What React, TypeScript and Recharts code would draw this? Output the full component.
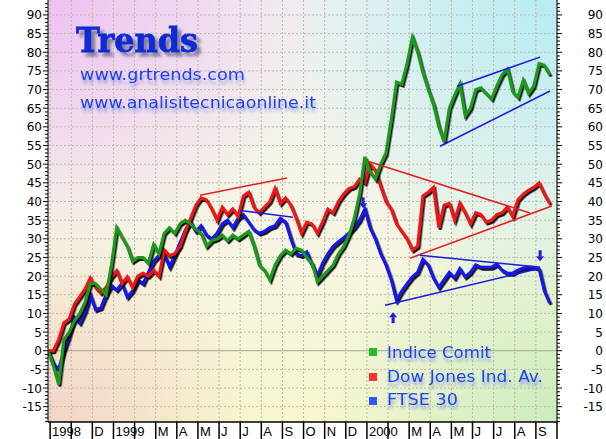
import React from 'react';
import { ComposedChart, Line, XAxis, YAxis, CartesianGrid, ReferenceLine, ReferenceDot } from 'recharts';

// month ticks, Oct 1998 .. Oct 2000
const monthLabels = ['1998', '', 'D', '1999', '', 'M', 'A', 'M', 'J', 'J', 'A', 'S', 'O', 'N', 'D', '2000', '', 'M', 'A', 'M', 'J', 'J', 'A', 'S', ''];

// weekly closes, % change from start
const comit = [0, -4, -9, 3, 5, 8, 10, 13, 18, 18, 16.5, 15, 23, 33, 30.5, 28, 24, 25, 25, 23.5, 28.5, 26, 31.5, 33, 31.5, 34, 35, 34, 32.5, 31.5, 28, 29.5, 30, 31, 29.5, 31, 30, 31, 32, 28, 23, 21.6, 19, 23, 25.5, 27, 26, 27.5, 27, 25, 23.5, 18.5, 20, 21.5, 23, 26, 28, 31, 35.5, 42, 52, 48, 46, 50, 53, 62, 72, 71.5, 77, 84, 80, 74.5, 70, 66, 60, 56, 65, 68.5, 71.5, 63, 65, 70, 70.5, 69, 67.5, 71, 74, 75.5, 69.5, 68, 72.5, 69, 71, 77, 76.5, 74];
const dowJones = [0, 0, 3, 7.5, 8.5, 12.5, 14.5, 16.5, 19.5, 17, 15.5, 17, 19.8, 21.5, 18, 19.8, 17, 20, 20.8, 20, 21.6, 20, 27, 25.5, 26, 28, 32, 35.5, 39, 41, 40.5, 38, 35, 38.5, 36.5, 38, 36, 41.5, 42.5, 38.5, 37, 38.5, 40, 43.5, 39.5, 41, 39, 35.5, 31.5, 34.5, 34, 31.5, 34.5, 38, 37, 40, 42, 43.5, 44, 46, 45, 50, 48.4, 44, 40, 38, 34, 32, 30, 27, 28, 41.5, 42.5, 43.8, 33, 39, 39.5, 35, 39.5, 37, 34, 37, 36.5, 34.5, 35, 36.5, 37, 38.5, 36, 40.5, 42, 43, 43.8, 45, 42, 39.5];
const ftse = [0, -3.4, -5, 0, 4, 9, 7.5, 10.5, 15, 11, 11.5, 15, 17.5, 16.3, 18, 14.4, 16, 19, 18, 21, 24, 25.5, 26, 22.5, 25.5, 29, 32.3, 34.5, 32, 33.5, 31, 30, 31.5, 34, 35, 33, 35.5, 36.5, 34.5, 32.5, 31.5, 32, 33, 33.5, 35.5, 34.5, 30, 26, 25.5, 26.5, 23, 20, 23.5, 26, 28, 29.2, 30.3, 31.5, 33, 35, 38, 33, 30, 26, 23, 19, 13.5, 16, 18, 19.8, 21, 24.5, 23, 19.5, 17, 19, 21, 19.5, 22, 19.8, 21, 23, 22.4, 22.4, 22.4, 23.2, 21.6, 20.8, 20.8, 21.6, 22.2, 22.4, 22.4, 22, 16, 12.8];

// hand-drawn trend lines: [month, value] -> [month, value]
const trendLines = [
  { from: [7.1, 41.7], to: [11.22, 46.3], color: '#e02020' },
  { from: [15.05, 50.8], to: [22.72, 36.9], color: '#e02020' },
  { from: [17.04, 24.8], to: [23.76, 38.8], color: '#e02020' },
  { from: [8.99, 37.6], to: [11.5, 35.8], color: '#1a1ae0' },
  { from: [17.51, 25.6], to: [23.2, 22.4], color: '#1a1ae0' },
  { from: [15.86, 12.2], to: [23.2, 22.1], color: '#1a1ae0' },
  { from: [19.27, 70.9], to: [23.2, 78.7], color: '#1a1ae0' },
  { from: [18.46, 54.8], to: [23.67, 69.6], color: '#1a1ae0' },
];

const arrows = [
  { m: 14.82, v: 39.5, dir: 'down' },
  { m: 16.24, v: 9, dir: 'up' },
  { m: 23.2, v: 25.3, dir: 'down' },
];

const data = comit.map((v, i) => ({ m: -0.1 + i * 0.25, comit: v, dow: dowJones[i], ftse: ftse[i] }));

const yTicks = Array.from({ length: 113 }, (_, i) => i - 19);
const gridY = [-15, -10, -5, 5, 10, 15, 20, 25, 30, 35, 40, 45, 50, 55, 60, 65, 70, 75, 80, 85, 90];
const monthTicks = monthLabels.map((_, i) => i);

const axisFont = 'DejaVu Sans, Verdana, sans-serif';

function LeftTick(props: any) {
  const { x, y, payload } = props;
  const major = payload.value % 5 === 0;
  return (
    <g>
      <line x1={x - (major ? 5 : 3)} x2={x} y1={y} y2={y} stroke="#000" />
      {major && (
        <text x={x - 6} y={y + 4.5} textAnchor="end" fontSize={12} fontFamily={axisFont} fill="#000">
          {payload.value}
        </text>
      )}
    </g>
  );
}

function RightTick(props: any) {
  const { x, y, payload } = props;
  const major = payload.value % 5 === 0;
  return (
    <g>
      <line x1={x} x2={x + (major ? 5 : 3)} y1={y} y2={y} stroke="#000" />
      {major && (
        <text x={x + 46} y={y + 4.5} textAnchor="end" fontSize={12} fontFamily={axisFont} fill="#000">
          {payload.value}
        </text>
      )}
    </g>
  );
}

function MonthTick(props: any) {
  const { x, y, payload } = props;
  return (
    <g>
      <line x1={x} x2={x} y1={y} y2={y + 17} stroke="#000" strokeWidth={1.5} />
      <text x={x + 2} y={y + 14} fontSize={13} fontFamily="Liberation Sans, Arial, sans-serif" fill="#000">
        {monthLabels[payload.value]}
      </text>
    </g>
  );
}

function Arrow(props: any) {
  const { cx, cy, dir } = props;
  const s = dir === 'down' ? 1 : -1;
  return (
    <g fill="#1a1ae0" stroke="none">
      <rect x={cx - 1.5} y={s > 0 ? cy - 6 : cy} width={3} height={6} />
      <path d={`M${cx - 4},${cy} L${cx + 4},${cy} L${cx},${cy + 5 * s} Z`} />
    </g>
  );
}

const bg = [
  'radial-gradient(ellipse 55% 60% at 0% 0%, rgba(238,190,240,0.95), rgba(238,190,240,0))',
  'radial-gradient(ellipse 55% 70% at 100% 0%, rgba(178,236,242,0.95), rgba(178,236,242,0))',
  'radial-gradient(ellipse 45% 55% at 100% 100%, rgba(200,236,188,0.95), rgba(200,236,188,0))',
  'radial-gradient(ellipse 40% 50% at 0% 100%, rgba(242,208,198,0.9), rgba(242,208,198,0))',
  'linear-gradient(#f1f1f1, #f6f5e4 55%, #f7f6cf)',
].join(',');

export default function App() {
  return (
    <div style={{ position: 'absolute', left: 0, top: 0, width: 606, height: 439, background: '#fff' }}>
      <div style={{ position: 'absolute', left: 48, top: 0, width: 509, height: 422, background: bg }} />
      <div style={{ position: 'absolute', left: 0, top: 0 }}>
        <ComposedChart width={606} height={439} data={data} margin={{ top: 0, right: 0, bottom: 0, left: 0 }}>
          <defs>
            <filter id="shadow" x="-5%" y="-5%" width="110%" height="110%">
              <feDropShadow dx="1.5" dy="2" stdDeviation="0.3" floodColor="#000" floodOpacity="0.9" />
            </filter>
          </defs>
          <CartesianGrid
            yAxisId="l"
            stroke="#b9b9ae"
            strokeDasharray="2 2"
            horizontalValues={gridY}
            verticalValues={monthTicks}
          />
          <XAxis
            dataKey="m"
            type="number"
            domain={[-0.1, 24]}
            ticks={monthTicks}
            interval={0}
            height={17}
            tickSize={0}
            tickMargin={0}
            tick={(p: any) => <MonthTick {...p} />}
            axisLine={{ stroke: '#000', strokeWidth: 1.5 }}
            allowDataOverflow
          />
          <YAxis
            yAxisId="l"
            type="number"
            domain={[-19.1, 94]}
            ticks={yTicks}
            interval={0}
            width={48}
            tickSize={0}
            tickMargin={0}
            tick={(p: any) => <LeftTick {...p} />}
            axisLine={{ stroke: '#000' }}
            allowDataOverflow
          />
          <YAxis
            yAxisId="r"
            orientation="right"
            type="number"
            domain={[-19.1, 94]}
            ticks={yTicks}
            interval={0}
            width={49}
            tickSize={0}
            tickMargin={0}
            tick={(p: any) => <RightTick {...p} />}
            axisLine={{ stroke: '#000' }}
            allowDataOverflow
          />
          <ReferenceLine yAxisId="l" y={0} stroke="#a5a58c" strokeWidth={1} />
          <Line yAxisId="l" type="linear" dataKey="ftse" stroke="#1414f0" strokeWidth={3} dot={false} isAnimationActive={false} filter="url(#shadow)" />
          <Line yAxisId="l" type="linear" dataKey="dow" stroke="#f01414" strokeWidth={3} dot={false} isAnimationActive={false} filter="url(#shadow)" />
          <Line yAxisId="l" type="linear" dataKey="comit" stroke="#1c9a1c" strokeWidth={3} dot={false} isAnimationActive={false} filter="url(#shadow)" />
          {trendLines.map((t, i) => (
            <ReferenceLine
              key={i}
              yAxisId="l"
              segment={[{ x: t.from[0], y: t.from[1] }, { x: t.to[0], y: t.to[1] }]}
              stroke={t.color}
              strokeWidth={1.5}
              ifOverflow="visible"
            />
          ))}
          {arrows.map((a, i) => (
            <ReferenceDot key={i} yAxisId="l" x={a.m} y={a.v} r={4} ifOverflow="visible" shape={(p: any) => <Arrow {...p} dir={a.dir} />} />
          ))}
        </ComposedChart>
      </div>
      <svg width={606} height={439} style={{ position: 'absolute', left: 0, top: 0, pointerEvents: 'none' }}>
        <defs>
          <filter id="titleShadow" x="-10%" y="-30%" width="130%" height="170%">
            <feGaussianBlur in="SourceAlpha" stdDeviation="1.8" result="b" />
            <feOffset in="b" dx="4" dy="4" result="o" />
            <feFlood floodColor="#6a6a8a" floodOpacity="0.8" />
            <feComposite in2="o" operator="in" result="s" />
            <feMerge>
              <feMergeNode in="s" />
              <feMergeNode in="SourceGraphic" />
            </feMerge>
          </filter>
          <filter id="textShadow" x="-10%" y="-40%" width="120%" height="190%">
            <feGaussianBlur in="SourceAlpha" stdDeviation="1.6" result="b" />
            <feOffset in="b" dx="1" dy="4" result="o" />
            <feFlood floodColor="#7f95e0" floodOpacity="0.75" />
            <feComposite in2="o" operator="in" result="s" />
            <feMerge>
              <feMergeNode in="s" />
              <feMergeNode in="SourceGraphic" />
            </feMerge>
          </filter>
        </defs>
        <text x={76} y={52} fill="#0a2ad6" stroke="#0a2ad6" strokeWidth={0.8} fontFamily="DejaVu Serif, serif" fontWeight="bold" fontSize={33}
          textLength={122} lengthAdjust="spacingAndGlyphs" filter="url(#titleShadow)">Trends</text>
        <g fontFamily="DejaVu Sans, sans-serif" fontSize={16} fill="#1a3cf0" filter="url(#textShadow)">
          <text x={80} y={80} textLength={165} lengthAdjust="spacingAndGlyphs">www.grtrends.com</text>
          <text x={80} y={108} textLength={236} lengthAdjust="spacingAndGlyphs">www.analisitecnicaonline.it</text>
        </g>
        <rect x={369} y={348} width={8} height={8} fill="#22c022" />
        <rect x={369} y={373} width={8} height={8} fill="#ff3030" />
        <rect x={369} y={397} width={8} height={8} fill="#2a5aff" />
        <g fontFamily="DejaVu Sans, sans-serif" fontSize={15} fill="#1a44f0" filter="url(#textShadow)">
          <text x={387} y={358} textLength={104} lengthAdjust="spacingAndGlyphs">Indice Comit</text>
          <text x={387} y={382} textLength={156} lengthAdjust="spacingAndGlyphs">Dow Jones Ind. Av.</text>
          <text x={387} y={405} textLength={71} lengthAdjust="spacingAndGlyphs">FTSE 30</text>
        </g>
      </svg>
    </div>
  );
}
